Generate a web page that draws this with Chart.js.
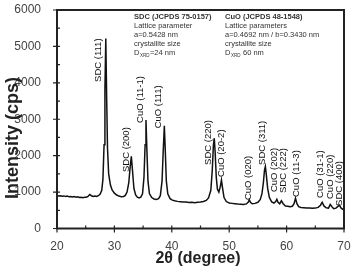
<!DOCTYPE html>
<html>
<head>
<meta charset="utf-8">
<script src="https://cdn.jsdelivr.net/npm/chart.js@4/dist/chart.umd.min.js"></script>
<style>
  html, body { margin: 0; padding: 0; background: #fff; }
  #wrap { width: 352px; height: 272px; position: relative; }
</style>
</head>
<body>
<div id="wrap"><canvas id="xrd-chart"></canvas></div>
<script>
'use strict';

// 2theta (degree) and intensity (cps)
const twoTheta = [
  20.0, 20.3, 20.6, 20.9, 21.2, 21.5, 21.8, 22.1, 22.4, 22.7, 23.0, 23.3, 23.6, 23.9, 24.2, 24.5, 24.8,
  25.1, 25.4, 25.7, 26.0, 26.3, 26.6, 26.9, 27.2, 27.5, 27.8, 28.0, 28.2, 28.35, 28.5, 28.65, 28.8,
  29.0, 29.3, 29.6, 30.0, 30.4, 30.8, 31.2, 31.6, 31.9, 32.2, 32.5, 32.75, 32.95, 33.15, 33.4, 33.7,
  34.0, 34.3, 34.6, 34.9, 35.15, 35.35, 35.5, 35.65, 35.85, 36.1, 36.5, 36.9, 37.3, 37.7, 38.0, 38.3,
  38.5, 38.7, 38.85, 39.05, 39.3, 39.7, 40.1, 40.5, 41.0, 41.5, 42.0, 42.5, 43.0, 43.5, 44.0, 44.5,
  45.0, 45.5, 46.0, 46.4, 46.8, 47.05, 47.25, 47.4, 47.55, 47.75, 47.95, 48.2, 48.45, 48.65, 48.85,
  49.1, 49.5, 50.0, 50.5, 51.0, 51.5, 52.0, 52.5, 53.0, 53.3, 53.5, 53.7, 54.0, 54.5, 55.0, 55.4,
  55.7, 55.95, 56.15, 56.3, 56.45, 56.7, 57.0, 57.4, 57.8, 58.1, 58.3, 58.5, 58.8, 59.1, 59.4, 59.8,
  60.2, 60.6, 61.0, 61.3, 61.55, 61.8, 62.1, 62.5, 63.0, 63.5, 64.0, 64.5, 65.0, 65.5, 65.9, 66.2,
  66.5, 66.9, 67.3, 67.6, 67.9, 68.2, 68.6, 68.9, 69.2, 69.5, 69.8, 70.0
];
const intensity = [
  905, 890, 900, 885, 895, 880, 890, 870, 880, 865, 875, 860, 870, 850, 860, 845, 855,
  860, 880, 935, 900, 880, 890, 880, 900, 940, 1050, 1350, 2300, 3800, 5220, 3600, 2200,
  1500, 1200, 1060, 970, 920, 890, 875, 880, 910, 1000, 1250, 1700, 1980, 1600, 1100, 920,
  860, 840, 860, 950, 1400, 2300, 2980, 2200, 1300, 960, 850, 810, 800, 820, 900, 1300,
  2100, 2820, 2200, 1300, 950, 820, 780, 760, 745, 735, 725, 730, 715, 720, 710, 720,
  725, 740, 770, 840, 1050, 1600, 2300, 2480, 2100, 1400, 1080, 1000, 1150, 1330, 1100,
  850, 740, 700, 690, 680, 670, 665, 660, 675, 720, 790, 720, 680, 690, 720, 790,
  950, 1250, 1600, 1700, 1500, 1100, 850, 730, 700, 740, 800, 720, 680, 760, 680, 620,
  610, 600, 610, 680, 830, 680, 600, 575, 570, 560, 565, 555, 560, 580, 640, 720,
  620, 570, 560, 660, 600, 545, 560, 600, 640, 560, 530, 520
];

// reflection labels, with where they sit (2theta, intensity at the foot of the text)
const peakNames = [
  'SDC (111)', 'SDC (200)', 'CuO (11-1)', 'CuO (111)', 'SDC (220)', 'CuO (20-2)', 'CuO (020)',
  'SDC (311)', 'CuO (202)', 'SDC (222)', 'CuO (11-3)', 'CuO (31-1)', 'CuO (220)', 'SDC (400)'
];
const peakLabelTheta = [27.2, 32.0, 34.6, 37.6, 46.3, 48.7, 53.4, 55.8, 57.8, 59.5, 61.7, 65.9, 67.6, 69.2];
const peakLabelBase = [4025, 1550, 2900, 2750, 1745, 1415, 780, 1745, 1000, 975, 865, 840, 810, 620];

const xTicks = [20, 30, 40, 50, 60, 70];
const yTicks = [0, 1000, 2000, 3000, 4000, 5000, 6000];

// phase info blocks in the top right
const sdcInfo = ['SDC (JCPDS 75-0157)', 'Lattice parameter', 'a=0.5428 nm', 'crystallite size', 'D|XRD|=24 nm'];
const cuoInfo = ['CuO (JCPDS 48-1548)', 'Lattice parameters', 'a=0.4692 nm / b=0.3430 nm', 'crystallite size', 'D|XRD| 60 nm'];

const points = [];
for (let i = 0; i < twoTheta.length; i++) {
  points.push({ x: twoTheta[i], y: intensity[i] });
}

// draw one info line, "D|XRD|..." gets a small subscript
function drawInfoLine(ctx, text, x, y, bold) {
  ctx.font = (bold ? 'bold ' : '') + '7.5px Arial';
  let parts = text.split('|');
  if (parts.length === 1) {
    ctx.fillText(text, x, y);
    return;
  }
  ctx.fillText(parts[0], x, y);
  let w = ctx.measureText(parts[0]).width;
  ctx.font = '4.5px Arial';
  ctx.fillText(parts[1], x + w + 0.5, y + 2.5);
  let w2 = ctx.measureText(parts[1]).width;
  ctx.font = '7.5px Arial';
  ctx.fillText(parts[2], x + w + w2 + 1, y);
}

const decorPlugin = {
  id: 'decor',
  afterDraw(chart) {
    const ctx = chart.ctx;
    const area = chart.chartArea;
    const xs = chart.scales.x;
    const ys = chart.scales.y;
    ctx.save();

    // frame
    ctx.strokeStyle = '#222';
    ctx.lineWidth = 2;
    ctx.strokeRect(area.left, area.top, area.right - area.left, area.bottom - area.top);

    // ticks: majors cross the axis, minors inside
    ctx.lineWidth = 1.2;
    ctx.beginPath();
    for (let v = 0; v <= 6000; v += 500) {
      let py = ys.getPixelForValue(v);
      let major = v % 1000 === 0;
      ctx.moveTo(area.left - (major ? 4 : 0), py);
      ctx.lineTo(area.left + 3, py);
    }
    for (let v = 20; v <= 70; v += 5) {
      let px = xs.getPixelForValue(v);
      let major = v % 10 === 0;
      ctx.moveTo(px, area.bottom + (major ? 4 : 0));
      ctx.lineTo(px, area.bottom - 3);
    }
    ctx.stroke();

    // peak labels, rotated
    ctx.fillStyle = '#111';
    ctx.font = '9.5px Arial';
    ctx.textAlign = 'left';
    ctx.textBaseline = 'middle';
    for (let i = 0; i < peakNames.length; i++) {
      let px = xs.getPixelForValue(peakLabelTheta[i]);
      let py = ys.getPixelForValue(peakLabelBase[i]);
      ctx.save();
      ctx.translate(px, py);
      ctx.rotate(-Math.PI / 2);
      ctx.fillText(peakNames[i], 0, 0);
      ctx.restore();
    }

    // info blocks
    ctx.fillStyle = '#333';
    ctx.textBaseline = 'middle';
    for (let i = 0; i < sdcInfo.length; i++) {
      drawInfoLine(ctx, sdcInfo[i], 134, 17 + i * 9, i === 0);
      drawInfoLine(ctx, cuoInfo[i], 225, 17 + i * 9, i === 0);
    }

    // axis titles
    ctx.fillStyle = '#222';
    ctx.font = 'bold 16px Arial';
    ctx.textAlign = 'center';
    ctx.fillText('2θ (degree)', 198, 259);
    ctx.save();
    ctx.translate(13, 138);
    ctx.rotate(-Math.PI / 2);
    ctx.font = 'bold 18px Arial';
    ctx.fillText('Intensity (cps)', 0, 0);
    ctx.restore();

    ctx.restore();
  }
};

const chartEl = document.getElementById('xrd-chart');
new Chart(chartEl.getContext('2d'), {
  type: 'line',
  data: {
    datasets: [{
      data: points,
      borderColor: '#111',
      borderWidth: 1.5,
      pointRadius: 0,
      tension: 0,
    }],
  },
  options: {
    responsive: true,
    maintainAspectRatio: false,
    animation: false,
    events: [],
    layout: { padding: { top: 10, right: 8, left: 0, bottom: 0 } },
    plugins: {
      legend: { display: false },
      tooltip: { enabled: false },
    },
    scales: {
      x: {
        type: 'linear',
        min: 20,
        max: 70,
        afterBuildTicks: (scale) => { scale.ticks = xTicks.map(v => ({ value: v })); },
        afterFit: (scale) => {
          scale.height = 43.5;
          scale.paddingLeft = 0;
          scale.paddingRight = 0;
        },
        grid: { display: false },
        border: { display: false },
        ticks: { font: { family: 'Arial', size: 12 }, color: '#444', padding: 3, callback: (v) => String(v) },
      },
      y: {
        min: 0,
        max: 6000,
        afterBuildTicks: (scale) => { scale.ticks = yTicks.map(v => ({ value: v })); },
        afterFit: (scale) => {
          scale.width = 57;
          scale.paddingTop = 0;
          scale.paddingBottom = 0;
        },
        grid: { display: false },
        border: { display: false },
        ticks: { font: { family: 'Arial', size: 12 }, color: '#444', padding: 8, callback: (v) => String(v) },
      },
    },
  },
  plugins: [decorPlugin],
});
</script>
</body>
</html>
